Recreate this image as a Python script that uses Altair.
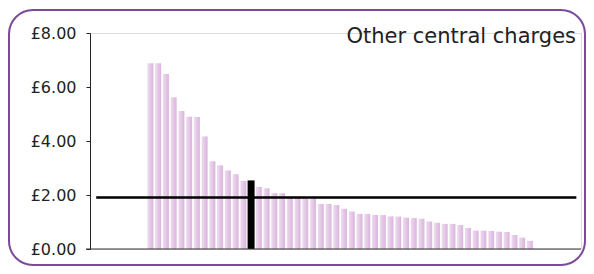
import altair as alt
import pandas as pd

# ---- data ----
values = [6.88, 6.88, 6.48, 5.62, 5.11, 4.90, 4.89, 4.17, 3.25, 3.10,
          2.91, 2.77, 2.52, 2.54, 2.30, 2.25, 2.07, 2.07, 1.89, 1.89,
          1.88, 1.88, 1.67, 1.67, 1.63, 1.49, 1.39, 1.30, 1.30, 1.26,
          1.26, 1.21, 1.20, 1.16, 1.15, 1.12, 1.02, 0.97, 0.93, 0.93,
          0.89, 0.78, 0.68, 0.68, 0.67, 0.64, 0.63, 0.52, 0.42, 0.30]
highlight_index = 14          # 1-based position of the black bar
average_value = 1.91
average_span = [-6, 56]       # index range of the average line
y_ticks = [0, 2, 4, 6, 8]
title_text = "Other central charges"

df = pd.DataFrame({"idx": list(range(1, len(values) + 1)), "value": values})
df["hl"] = df["idx"] == highlight_index
avg_df = pd.DataFrame({"x": [average_span[0]], "x2": [average_span[1]], "y": [average_value]})

W, H = 491, 216
xscale = alt.Scale(domain=[-6.8, 56.6], nice=False, zero=False, padding=0)
yscale = alt.Scale(domain=[0, 8], nice=False, padding=0)

base = alt.Chart(df)

bar_grad = alt.Gradient(
    gradient="linear",
    stops=[alt.GradientStop(color="#eedcf0", offset=0),
           alt.GradientStop(color="#dab4dd", offset=1)],
    x1=0, x2=1, y1=0, y2=0,
)

bars = base.transform_filter("!datum.hl").mark_bar(size=6, color=bar_grad).encode(
    x=alt.X("idx:Q", scale=xscale, axis=None),
    y=alt.Y("value:Q", scale=yscale,
            axis=alt.Axis(values=y_ticks, labelExpr="'£' + format(datum.value, '.2f')",
                          title=None, grid=False, domainColor="#222", tickColor="#222",
                          tickSize=4, labelPadding=10, labelFont="DejaVu Sans",
                          labelFontSize=16, labelColor="#222", domainWidth=1)),
)

hl_bar = base.transform_filter("datum.hl").mark_bar(size=7, color="#000000").encode(
    x=alt.X("idx:Q", scale=xscale),
    y=alt.Y("value:Q", scale=yscale),
)

avg_line = alt.Chart(avg_df).mark_rule(color="#000000", strokeWidth=2.5).encode(
    x=alt.X("x:Q", scale=xscale), x2="x2:Q", y=alt.Y("y:Q", scale=yscale)
)

x_axis_line = alt.Chart(avg_df).mark_rule(color="#333333", strokeWidth=1).encode(
    x=alt.value(-4), x2=alt.value(W), y=alt.datum(0, scale=yscale)
)

title = alt.Chart(avg_df).mark_text(
    text=title_text, align="right", baseline="alphabetic",
    font="DejaVu Sans", fontSize=21, color="#222222"
).encode(x=alt.value(W - 5), y=alt.value(10))

border = alt.Chart(avg_df).mark_rect(
    cornerRadius=24, fill="transparent", stroke="#7a4a9c", strokeWidth=2
).encode(x=alt.value(-81), x2=alt.value(495), y=alt.value(-23), y2=alt.value(232))

side_tick = alt.Chart(avg_df).mark_rule(color="#7a4a9c", strokeWidth=2).encode(
    x=alt.value(-95), x2=alt.value(-81), y=alt.value(110)
)

chart = alt.layer(border, side_tick, bars, hl_bar, avg_line, x_axis_line, title).properties(
    width=W, height=H,
    autosize=alt.AutoSizeParams(type="none"),
    padding={"left": 82, "top": 25, "right": 5, "bottom": 17},
).configure_view(stroke=None).configure(background="white")

chart.save("out.html", embed_options={"renderer": "svg", "actions": False})
